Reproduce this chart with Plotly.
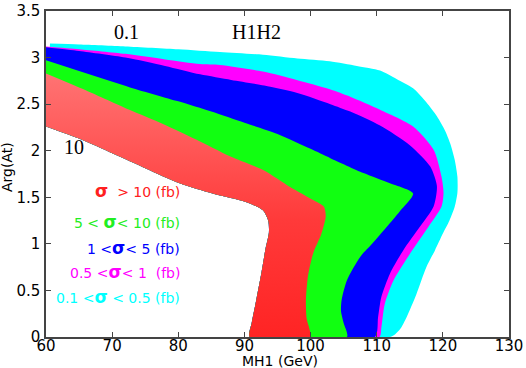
import plotly.graph_objects as go

# Band boundaries (MH1 in GeV, Arg(At) in rad)
# red inner edge
red_in_x = [60, 65.0, 70.1, 75.1, 80.2, 85.2, 90.2, 92.8, 93.6, 93.7, 93.2, 92.6, 91.8, 91.1, 90.8]
red_in_y = [2.26, 2.13, 1.97, 1.81, 1.65, 1.54, 1.45, 1.36, 1.25, 1.12, 0.95, 0.70, 0.40, 0.15, 0.0]
# red / green edge
red_out_x = [60, 66, 72.6, 77.6, 82.7, 87.8, 92.9, 96.9, 100.4, 102.0, 102.3, 101.6, 100.4, 99.6, 99.3, 99.4, 99.9]
red_out_y = [2.83, 2.65, 2.44, 2.29, 2.12, 1.94, 1.79, 1.61, 1.47, 1.40, 1.30, 1.10, 0.90, 0.65, 0.40, 0.20, 0.0]
# green / blue edge
green_out_x = [60, 72.7, 80, 85, 90, 95, 100, 103, 108, 112, 115.5, 113.5, 111.5, 109.3, 107.5, 105.5, 104.7, 104.6, 105.0, 105.5]
green_out_y = [2.97, 2.68, 2.53, 2.42, 2.30, 2.18, 2.02, 1.92, 1.76, 1.65, 1.54, 1.35, 1.18, 1.00, 0.86, 0.61, 0.40, 0.28, 0.15, 0.0]
# blue / magenta edge
blue_out_x = [60, 65, 72, 78, 83.3, 88, 93, 98, 103, 106, 110.5, 115.0, 118.1, 119.1, 118.6, 116.5, 114.0, 112.0, 110.7, 110.2, 109.7]
blue_out_y = [3.11, 3.07, 3.00, 2.91, 2.82, 2.76, 2.70, 2.62, 2.50, 2.42, 2.27, 2.06, 1.83, 1.62, 1.40, 1.18, 0.93, 0.68, 0.43, 0.21, 0.0]
# magenta / cyan edge
mag_out_x = [60, 65, 72, 78, 83.3, 86.3, 92.8, 97.9, 102.9, 106, 110.5, 115.5, 118.6, 119.8, 120.1, 119.8, 117.8, 115.0, 112.5, 111.2, 110.7, 110.4]
mag_out_y = [3.12, 3.09, 3.04, 2.98, 2.93, 2.92, 2.85, 2.76, 2.66, 2.58, 2.44, 2.26, 2.01, 1.72, 1.55, 1.40, 1.18, 0.89, 0.60, 0.35, 0.10, 0.0]
# cyan outer edge
cyan_out_x = [60.6, 65, 72, 80, 86.3, 92.8, 98, 102.9, 107, 110.5, 113, 115.5, 117.5, 119.1, 120.3, 121.1,
              121.8, 122.2, 122.2, 121.8, 121.0, 120.0, 118.8, 117.5, 116.0, 114.5, 113.6, 112.8, 112.0]
cyan_out_y = [3.15, 3.14, 3.12, 3.09, 3.06, 3.03, 2.99, 2.96, 2.91, 2.86, 2.77, 2.67, 2.52, 2.37, 2.22, 2.08,
              1.90, 1.72, 1.55, 1.40, 1.25, 1.11, 0.93, 0.75, 0.46, 0.21, 0.09, 0.03, 0.0]

x_ticks = [60, 70, 80, 90, 100, 110, 120, 130]
y_ticks = [0, 0.5, 1, 1.5, 2, 2.5, 3, 3.5]

sig = "<span style='font-size:17px'><b>σ</b></span>"
legend_labels = [
    sig + "  > 10 (fb)",
    "5 < " + sig + "< 10 (fb)",
    "1 <" + sig + "< 5 (fb)",
    "0.5 <" + sig + "< 1  (fb)",
    "0.1 <" + sig + " < 0.5 (fb)",
]
legend_colors = ["#ff2020", "#22ee22", "#0000ff", "#ff00ff", "#00ffff"]
legend_y = [1.57, 1.23, 0.96, 0.70, 0.43]

fig = go.Figure()

bands = [
    (cyan_out_x, cyan_out_y, "#00ffff"),
    (mag_out_x, mag_out_y, "#ff00ff"),
    (blue_out_x, blue_out_y, "#0000ff"),
    (green_out_x, green_out_y, "#11ff11"),
]
for bx, by, col in bands:
    fig.add_trace(go.Scatter(
        x=bx + red_in_x[::-1], y=by + red_in_y[::-1],
        mode="lines", fill="toself", fillcolor=col,
        line=dict(width=0, color="rgba(0,0,0,0)", shape="spline", smoothing=0.7),
        hoverinfo="skip", showlegend=False))

# red band, lighter towards the top
fig.add_trace(go.Scatter(
    x=red_out_x + red_in_x[::-1], y=red_out_y + red_in_y[::-1],
    mode="lines", fill="toself",
    fillgradient=dict(type="vertical", start=0, stop=2.8,
                      colorscale=[[0, "#ff2424"], [0.45, "#ff3a3a"], [1, "#ff7272"]]),
    line=dict(width=0, color="rgba(0,0,0,0)", shape="spline", smoothing=0.7),
    hoverinfo="skip", showlegend=False))

serif = dict(family="Liberation Serif, Times New Roman, serif", size=20, color="black")
fig.add_annotation(x=72.2, y=3.27, text="0.1", showarrow=False, font=serif)
fig.add_annotation(x=91.75, y=3.27, text="H1H2", showarrow=False, font=serif)
fig.add_annotation(x=64.16, y=2.045, text="10", showarrow=False, font=serif)

for label, col, ly in zip(legend_labels, legend_colors, legend_y):
    fig.add_annotation(x=80.6, y=ly, text=label, showarrow=False, xanchor="right",
                       font=dict(family="DejaVu Sans", size=14, color=col))

# axis titles
fig.add_annotation(xref="paper", yref="paper", x=0.505, y=-0.074, text="MH1 (GeV)",
                   showarrow=False, xanchor="center", yanchor="middle",
                   font=dict(family="DejaVu Sans", size=14, color="black"))
fig.add_annotation(xref="paper", yref="paper", x=-0.083, y=0.52, text="Arg(At)",
                   showarrow=False, textangle=-90, xanchor="center", yanchor="middle",
                   font=dict(family="DejaVu Sans", size=14, color="black"))

axis_style = dict(showgrid=False, zeroline=False, showline=True, linecolor="#444",
                  linewidth=1.5, mirror="ticks", ticks="inside", ticklen=5, automargin=False,
                  tickcolor="#444", tickfont=dict(family="DejaVu Sans", size=15, color="black"))
fig.update_xaxes(range=[60, 130], tickvals=x_ticks, ticklabelstandoff=-6, **axis_style)
fig.update_yaxes(range=[0, 3.5], tickvals=y_ticks, ticklabelstandoff=1, **axis_style)

fig.update_layout(width=526, height=368, margin=dict(l=46, r=17, t=11, b=31),
                  plot_bgcolor="white", paper_bgcolor="white", showlegend=False)

# page body has a default margin that would push the figure off the window
fig.write_html("out.html", config={"displayModeBar": False},
               post_script="document.body.style.margin='0px';")
